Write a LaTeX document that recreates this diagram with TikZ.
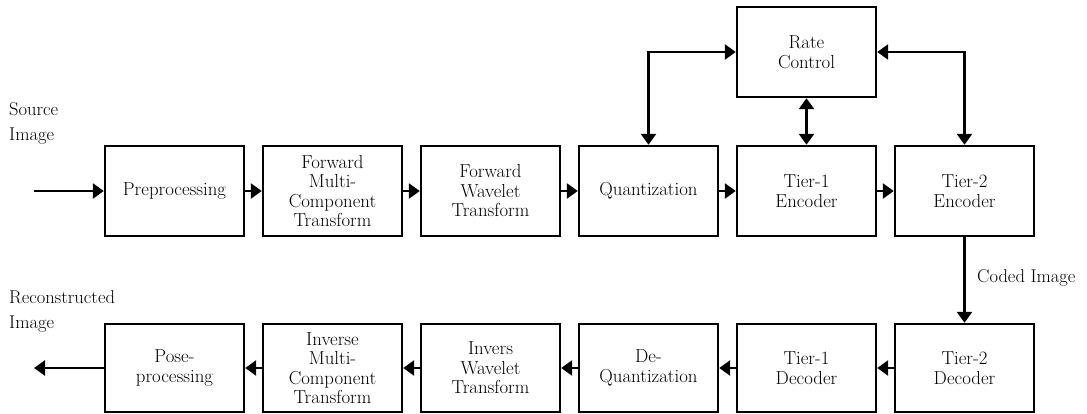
\documentclass[tikz,border=0pt]{standalone}
\usetikzlibrary{arrows.meta}

\begin{document}
\begin{tikzpicture}[x=1pt, y=1pt,
        block/.style = {draw, line width=2.4pt, minimum width=139pt, minimum height=90pt,
            align=center, inner sep=0pt, font=\fontsize{18.8}{19.5}\selectfont},
        lowblock/.style = {block, minimum height=88pt},
        flow/.style = {line width=2.6pt, -{Triangle[length=11pt, width=15pt]}},
        twoway/.style = {line width=2.6pt, {Triangle[length=11pt, width=15pt]}-{Triangle[length=11pt, width=15pt]}},
        imgtext/.style = {align=left, inner sep=0pt, font=\fontsize{18.5}{25}\selectfont}]

    \useasboundingbox (0,0) rectangle (1087,413);

    % Encoder row
    \node[block] (pre) at (174.5,222) {Preprocessing};
    \node[block] (fmct) at (332.5,222) {Forward\\Multi-\\Component\\Transform};
    \node[block] (fwt) at (490.5,222) {Forward\\Wavelet\\Transform};
    \node[block] (quant) at (648.5,222) {Quantization};
    \node[block] (tenc) at (806.5,222) {Tier-1\\Encoder};
    \node[block] (ttenc) at (964.5,222) {Tier-2\\Encoder};

    % Rate control
    \node[block] (rate) at (806.5,361) {Rate\\Control};

    % Decoder row
    \node[lowblock] (post) at (174.5,45) {Pose-\\processing};
    \node[lowblock] (imct) at (332.5,45) {Inverse\\Multi-\\Component\\Transform};
    \node[lowblock] (iwt) at (490.5,45) {Invers\\Wavelet\\Transform};
    \node[lowblock] (dequant) at (648.5,45) {De-\\Quantization};
    \node[lowblock] (tdec) at (806.5,45) {Tier-1\\Decoder};
    \node[lowblock] (ttdec) at (964.5,45) {Tier-2\\Decoder};

    % Outside texts
    \node[imgtext, anchor=west] (src) at (9,290) {Source\\Image};
    \node[imgtext, anchor=west] (rec) at (9,102) {Reconstructed\\Image};
    \node[imgtext, anchor=west] (coded) at (977,135) {Coded Image};
    \coordinate (in) at (34,222);
    \coordinate (out) at (34,45);

    % Encoder arrows
    \draw[flow] (in) -- (pre);
    \draw[flow] (pre) -- (fmct);
    \draw[flow] (fmct) -- (fwt);
    \draw[flow] (fwt) -- (quant);
    \draw[flow] (quant) -- (tenc);
    \draw[flow] (tenc) -- (ttenc);

    % Rate control arrows
    \draw[twoway] (rate.west) -| (quant.north);
    \draw[twoway] (rate.south) -- (tenc.north);
    \draw[twoway] (rate.east) -| (ttenc.north);

    % Coded image
    \draw[flow] (ttenc.south) -- (ttdec.north);

    % Decoder arrows
    \draw[flow] (ttdec) -- (tdec);
    \draw[flow] (tdec) -- (dequant);
    \draw[flow] (dequant) -- (iwt);
    \draw[flow] (iwt) -- (imct);
    \draw[flow] (imct) -- (post);
    \draw[flow] (post) -- (out);

\end{tikzpicture}
\end{document}
